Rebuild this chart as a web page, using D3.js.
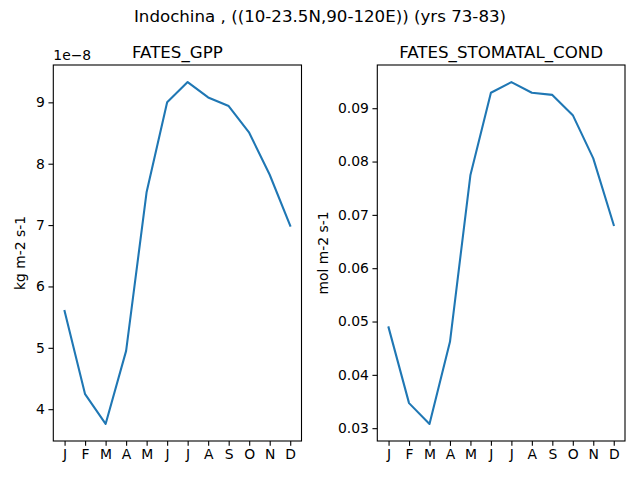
<!DOCTYPE html>
<html>
<head>
<meta charset="utf-8">
<script src="https://cdn.jsdelivr.net/npm/d3@7"></script>
<style>
  body { margin: 0; background: #fff; }
  text { font-family: "DejaVu Sans", sans-serif; fill: #000; }
</style>
</head>
<body>
<div id="chart"></div>
<script>
// data
const months = ["J", "F", "M", "A", "M", "J", "J", "A", "S", "O", "N", "D"];
const gppValues = [5.60, 4.245, 3.76, 4.95, 7.54, 9.00, 9.33, 9.08, 8.94, 8.505, 7.82, 6.99]; // x 1e-8
const condValues = [0.0489, 0.0347, 0.0308, 0.0462, 0.0775, 0.0929, 0.0949, 0.0929, 0.0925, 0.0887, 0.0806, 0.0681];
const gppTicks = [4, 5, 6, 7, 8, 9];
const condTicks = [0.03, 0.04, 0.05, 0.06, 0.07, 0.08, 0.09];

const width = 640, height = 480;
const tickFont = 13.9, titleFont = 16.67;

const svg = d3.select("#chart").append("svg")
    .attr("width", width).attr("height", height)
    .attr("viewBox", `0 0 ${width} ${height}`);

svg.append("text")
    .attr("x", 320).attr("y", 22)
    .attr("text-anchor", "middle")
    .style("font-size", titleFont + "px")
    .text("Indochina , ((10-23.5N,90-120E)) (yrs 73-83)");

function panel(opts) {
    const { left, right, top, bottom, values, ticks, fmt, title, ylabel, ylabelX, offset } = opts;

    // matplotlib style 5% margins
    const xs = d3.scaleLinear().domain([-0.55, 11.55]).range([left, right]);
    const [lo, hi] = d3.extent(values);
    const pad = (hi - lo) * 0.05;
    const ys = d3.scaleLinear().domain([lo - pad, hi + pad]).range([bottom, top]);

    const g = svg.append("g");

    const line = d3.line()
        .x((d, i) => xs(i))
        .y(d => ys(d));

    g.append("path")
        .datum(values)
        .attr("d", line)
        .style("fill", "none")
        .style("stroke", "#1f77b4")
        .style("stroke-width", 2.08)
        .style("stroke-linejoin", "round")
        .style("stroke-linecap", "square");

    // y axis
    const yAxis = g.append("g")
        .attr("transform", `translate(${left},0)`)
        .call(d3.axisLeft(ys).tickValues(ticks).tickFormat(fmt).tickSizeOuter(0).tickSize(4.86).tickPadding(3.5));
    yAxis.select(".domain").remove();
    yAxis.selectAll("line").style("stroke-width", 1.1);
    yAxis.selectAll("text").style("font-size", tickFont + "px").style("font-family", "DejaVu Sans");

    // x axis
    const xAxis = g.append("g")
        .attr("transform", `translate(0,${bottom})`)
        .call(d3.axisBottom(xs).tickValues(d3.range(12)).tickFormat(i => months[i]).tickSizeOuter(0).tickSize(4.86).tickPadding(3.5));
    xAxis.select(".domain").remove();
    xAxis.selectAll("line").style("stroke-width", 1.1);
    xAxis.selectAll("text").style("font-size", tickFont + "px").style("font-family", "DejaVu Sans");

    // frame
    g.append("rect")
        .attr("x", left).attr("y", top)
        .attr("width", right - left).attr("height", bottom - top)
        .style("fill", "none").style("stroke", "#000").style("stroke-width", 1.1);

    g.append("text")
        .attr("x", (left + right) / 2).attr("y", top - 7.5)
        .attr("text-anchor", "middle")
        .style("font-size", titleFont + "px")
        .text(title);

    g.append("text")
        .attr("transform", `translate(${ylabelX},${(top + bottom) / 2}) rotate(-90)`)
        .attr("text-anchor", "middle")
        .style("font-size", tickFont + "px")
        .text(ylabel);

    if (offset) {
        g.append("text")
            .attr("x", left).attr("y", top - 5)
            .style("font-size", tickFont + "px")
            .text(offset);
    }
}

panel({
    left: 53.3, right: 301.5, top: 65, bottom: 441,
    values: gppValues, ticks: gppTicks, fmt: d3.format("d"),
    title: "FATES_GPP", ylabel: "kg m-2 s-1", ylabelX: 25, offset: "1e\u22128"
});

panel({
    left: 377.3, right: 625, top: 65, bottom: 441,
    values: condValues, ticks: condTicks, fmt: d3.format(".2f"),
    title: "FATES_STOMATAL_COND", ylabel: "mol m-2 s-1", ylabelX: 328
});
</script>
</body>
</html>
